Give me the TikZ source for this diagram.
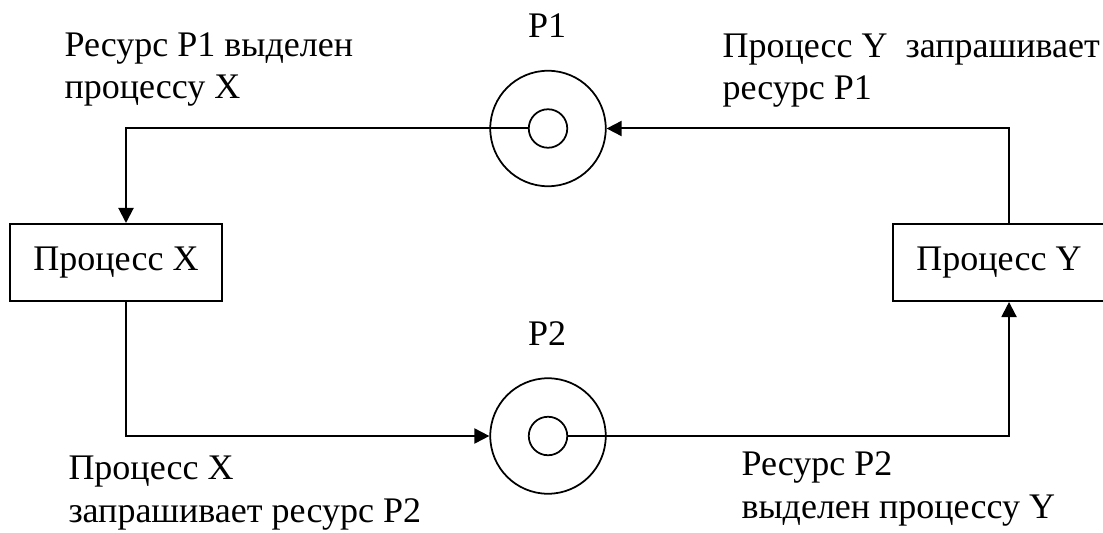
\documentclass[tikz,border=0pt]{standalone}
\usepackage{fontspec}
\setmainfont{Liberation Serif}
\usetikzlibrary{arrows.meta}

\begin{document}
\begin{tikzpicture}[x=0.4pt,y=-0.4pt,every node/.style={font=\fontsize{14.4}{17}\selectfont}]

		\tikzstyle{process}=[rectangle,draw=black,line width=0.8pt,
			minimum width=84.8pt,minimum height=30.8pt,inner sep=0pt]
		\tikzstyle{resource}=[circle,draw=black,line width=0.7pt,
			minimum size=46.2pt,inner sep=0pt]
		\tikzstyle{core}=[circle,draw=black,line width=0.7pt,
			minimum size=15.4pt,inner sep=0pt]
		\tikzstyle{note}=[anchor=base west,align=left,inner sep=0pt]
		\tikzstyle{link}=[-{Triangle[length=6pt,width=6pt]},line width=0.8pt]

		\useasboundingbox (0,0) rectangle (1103,532);

		% resources
		\node[resource]	(p1)	at (548,128.5)	{};
		\node[core]	(p1in)	at (p1.center)	{};
		\node[resource]	(p2)	at (548,436)	{};
		\node[core]	(p2in)	at (p2.center)	{};
		\node[anchor=base]	(p1name)	at (547,37.7)	{P1};
		\node[anchor=base]	(p2name)	at (547,345)	{P2};

		% processes
		\node[process]	(procX)	at (116,262.5)	{Процесс X};
		\node[process]	(procY)	at (999,262.5)	{Процесс Y};

		\draw[link] (p1in.west) -| ([xshift=4pt]procX.north);
		\draw[link] ([xshift=4pt]procY.north) |- (p1.east);
		\draw[link] ([xshift=4pt]procX.south) |- (p2.west);
		\draw[link] (p2in.east) -| ([xshift=4pt]procY.south);

		% notes, placed by the baseline of their last line
		\node[note]	(heldX)	at (64,99)	{Ресурс P1 выделен\\процессу X};
		\node[note]	(askY)	at (722,100)	{Процесс Y\ \ запрашивает\\ресурс P1};
		\node[note]	(askX)	at (68,522)	{Процесс X\\запрашивает ресурс P2};
		\node[note]	(heldY)	at (741,518)	{Ресурс P2\\выделен процессу Y};

	\end{tikzpicture}
\end{document}
